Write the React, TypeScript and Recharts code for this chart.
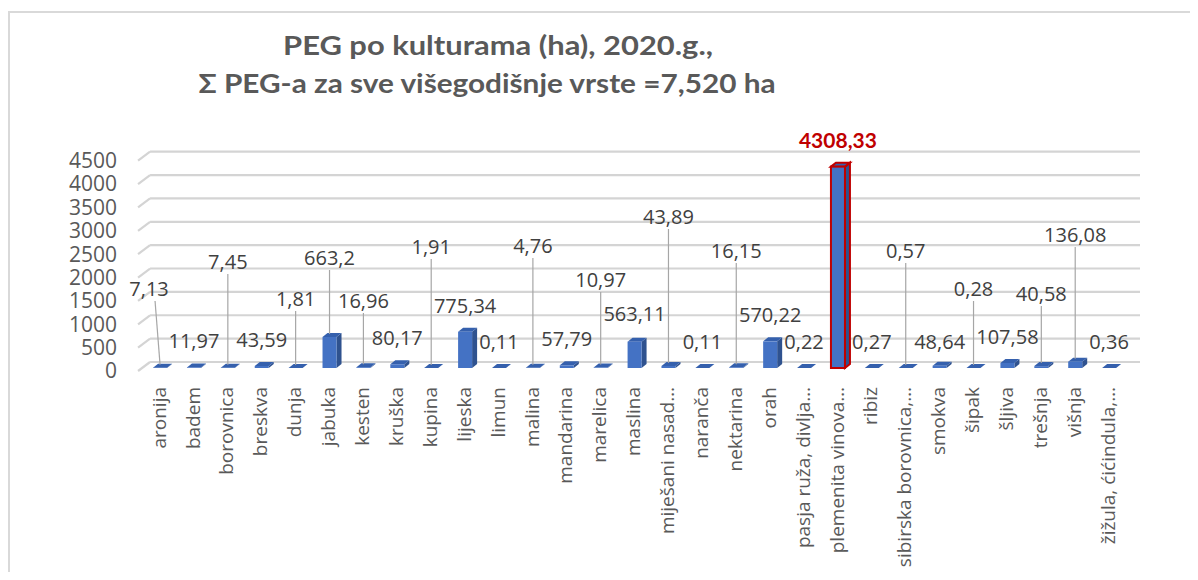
import { BarChart, Bar, XAxis, YAxis, CartesianGrid } from "recharts";

const CATEGORIES = [
  "aronija",
  "badem",
  "borovnica",
  "breskva",
  "dunja",
  "jabuka",
  "kesten",
  "kruška",
  "kupina",
  "lijeska",
  "limun",
  "malina",
  "mandarina",
  "marelica",
  "maslina",
  "miješani nasad…",
  "naranča",
  "nektarina",
  "orah",
  "pasja ruža, divlja…",
  "plemenita vinova…",
  "ribiz",
  "sibirska borovnica,…",
  "smokva",
  "šipak",
  "šljiva",
  "trešnja",
  "višnja",
  "žižula, ćićindula,…",
];

// PEG area per crop, ha
const AREA_HA = [
  7.13, 11.97, 7.45, 43.59, 1.81, 663.2, 16.96, 80.17, 1.91, 775.34, 0.11, 4.76,
  57.79, 10.97, 563.11, 43.89, 0.11, 16.15, 570.22, 0.22, 4308.33, 0.27, 0.57,
  48.64, 0.28, 107.58, 40.58, 136.08, 0.36,
];

// where each data label sits, in axis units (labels were dragged in the original)
const LABEL_AT = [
  1690, 578, 2268, 599, 1476, 2354, 1434, 642, 2589, 1327, 556, 2611, 621, 1883,
  1155, 3231, 556, 2504, 1134, 556, 4857, 556, 2504, 556, 1690, 663, 1583, 2846,
  556,
];

const Y_TICKS = [0, 500, 1000, 1500, 2000, 2500, 3000, 3500, 4000, 4500];
const HIGHLIGHT = "plemenita vinova…";
const LABEL_NUDGE: Record<string, number> = { aronija: -11 };

const data = CATEGORIES.map((name, i) => ({
  name,
  value: AREA_HA[i],
  labelAt: LABEL_AT[i],
}));

const fmt = (v: number) => String(v).replace(".", ",");

function BarShape(props: any) {
  const { x, y, width, height, payload } = props;
  const x0 = x + 1;
  const hi = payload.name === HIGHLIGHT;
  const stroke = hi ? "#c00000" : "none";
  const sw = hi ? 2 : 0;
  const base = y + height;
  return (
    <g>
      <polygon
        points={`${x0 + width},${y} ${x0 + width + 5},${y - 4} ${x0 + width + 5},${y + height - 4} ${x0 + width},${y + height}`}
        fill="#2f528f"
        stroke={stroke}
        strokeWidth={sw}
      />
      <polygon
        points={`${x0},${y} ${x0 + 5},${y - 4} ${x0 + width + 5},${y - 4} ${x0 + width},${y}`}
        fill="#3560ad"
        stroke={stroke}
        strokeWidth={sw}
      />
      <rect x={x0} y={y} width={width} height={height} fill="#4472c4" stroke={stroke} strokeWidth={sw} />
      {/* category label under the bar */}
      <g transform={`translate(${x + width / 2},${base + 19})`}>
        <text transform="rotate(-90)" textAnchor="end" dy="0.35em" fontFamily="Open Sans" fontSize={19} fill="#595959">
          {payload.name}
        </text>
      </g>
    </g>
  );
}

function LabelShape(props: any) {
  const { x, y, width, height, payload } = props;
  const c = x + width / 2 + 1;
  const hi = payload.name === HIGHLIGHT;
  const lx = c + (LABEL_NUDGE[payload.name] ?? 0);
  const leader = !hi && height > 40;
  return (
    <g>
      {leader && (
        <line
          x1={lx + (LABEL_NUDGE[payload.name] ? 6 : 0)}
          y1={y + 12}
          x2={c}
          y2={y + height - 3}
          stroke="#a6a6a6"
          strokeWidth={1.2}
        />
      )}
      <text
        x={lx}
        y={y}
        dy="0.35em"
        textAnchor="middle"
        fontFamily={hi ? "Lato" : "Open Sans"}
        fontWeight={hi ? 700 : 400}
        fontSize={hi ? 21 : 20}
        fill={hi ? "#c00000" : "#404040"}
      >
        {fmt(payload.value)}
      </text>
    </g>
  );
}

function GridLine(p: any) {
  const { x1, x2, y1, index } = p;
  // only the tick values get a line, not the top of the plot
  if (typeof p.y === "number" && Math.abs(y1 - p.y) < 1) return <g key={`g-${index}`} />;
  return (
    <g key={`g-${index}`}>
      <line x1={x1 - 4} y1={y1 + 3} x2={x1 + 8} y2={y1 - 6} stroke="#d4d4d4" strokeWidth={2.2} />
      <line x1={x1 + 8} y1={y1 - 6} x2={x2 + 15} y2={y1 - 6} stroke="#d4d4d4" strokeWidth={2.2} />
    </g>
  );
}

function YTick({ x, y, payload }: any) {
  return (
    <text x={x - 25} y={y + 3} dy="0.35em" textAnchor="end" fontFamily="Open Sans" fontSize={21} fill="#595959">
      {payload.value}
    </text>
  );
}

export default function App() {
  return (
    <div style={{ position: "relative", width: 1188, height: 564 }}>
      <div
        style={{
          position: "absolute",
          left: 0,
          top: 3,
          right: 0,
          bottom: 0,
          borderLeft: "2px solid #d9d9d9",
          borderTop: "2px solid #d9d9d9",
        }}
      />
      <div style={{ position: "absolute", left: 0, top: 0 }}>
        <BarChart
          width={1188}
          height={564}
          data={data}
          margin={{ top: 126.3, right: 71, bottom: 4, left: 0 }}
        >
          <CartesianGrid vertical={false} horizontal={GridLine} />
          <XAxis
            xAxisId="main"
            dataKey="name"
            interval={0}
            height={200}
            axisLine={false}
            tickLine={false}
            tick={false}
          />
          <XAxis xAxisId="lbl" dataKey="name" hide />
          <YAxis
            width={134.05}
            domain={[0, 5000]}
            ticks={Y_TICKS}
            axisLine={false}
            tickLine={false}
            tickSize={0}
            tickMargin={0}
            tick={<YTick />}
          />
          <Bar xAxisId="main" dataKey="value" barSize={14} shape={<BarShape />} isAnimationActive={false} />
          <Bar
            xAxisId="lbl"
            dataKey={(d: any) => [d.value, d.labelAt]}
            barSize={14}
            shape={<LabelShape />}
            isAnimationActive={false}
          />
        </BarChart>
      </div>
      <svg
        width={1188}
        height={110}
        style={{ position: "absolute", left: 0, top: 0, pointerEvents: "none" }}
      >
        <text x={490} y={47} textAnchor="middle" fontFamily="Lato" fontWeight={700} fontSize={27} fill="#595959" textLength={430} lengthAdjust="spacingAndGlyphs">
          PEG po kulturama (ha), 2020.g.,
        </text>
        <text x={479} y={85} textAnchor="middle" fontFamily="Lato" fontWeight={700} fontSize={27} fill="#595959" textLength={577} lengthAdjust="spacingAndGlyphs">
          Σ PEG-a za sve višegodišnje vrste =7,520 ha
        </text>
      </svg>
    </div>
  );
}
